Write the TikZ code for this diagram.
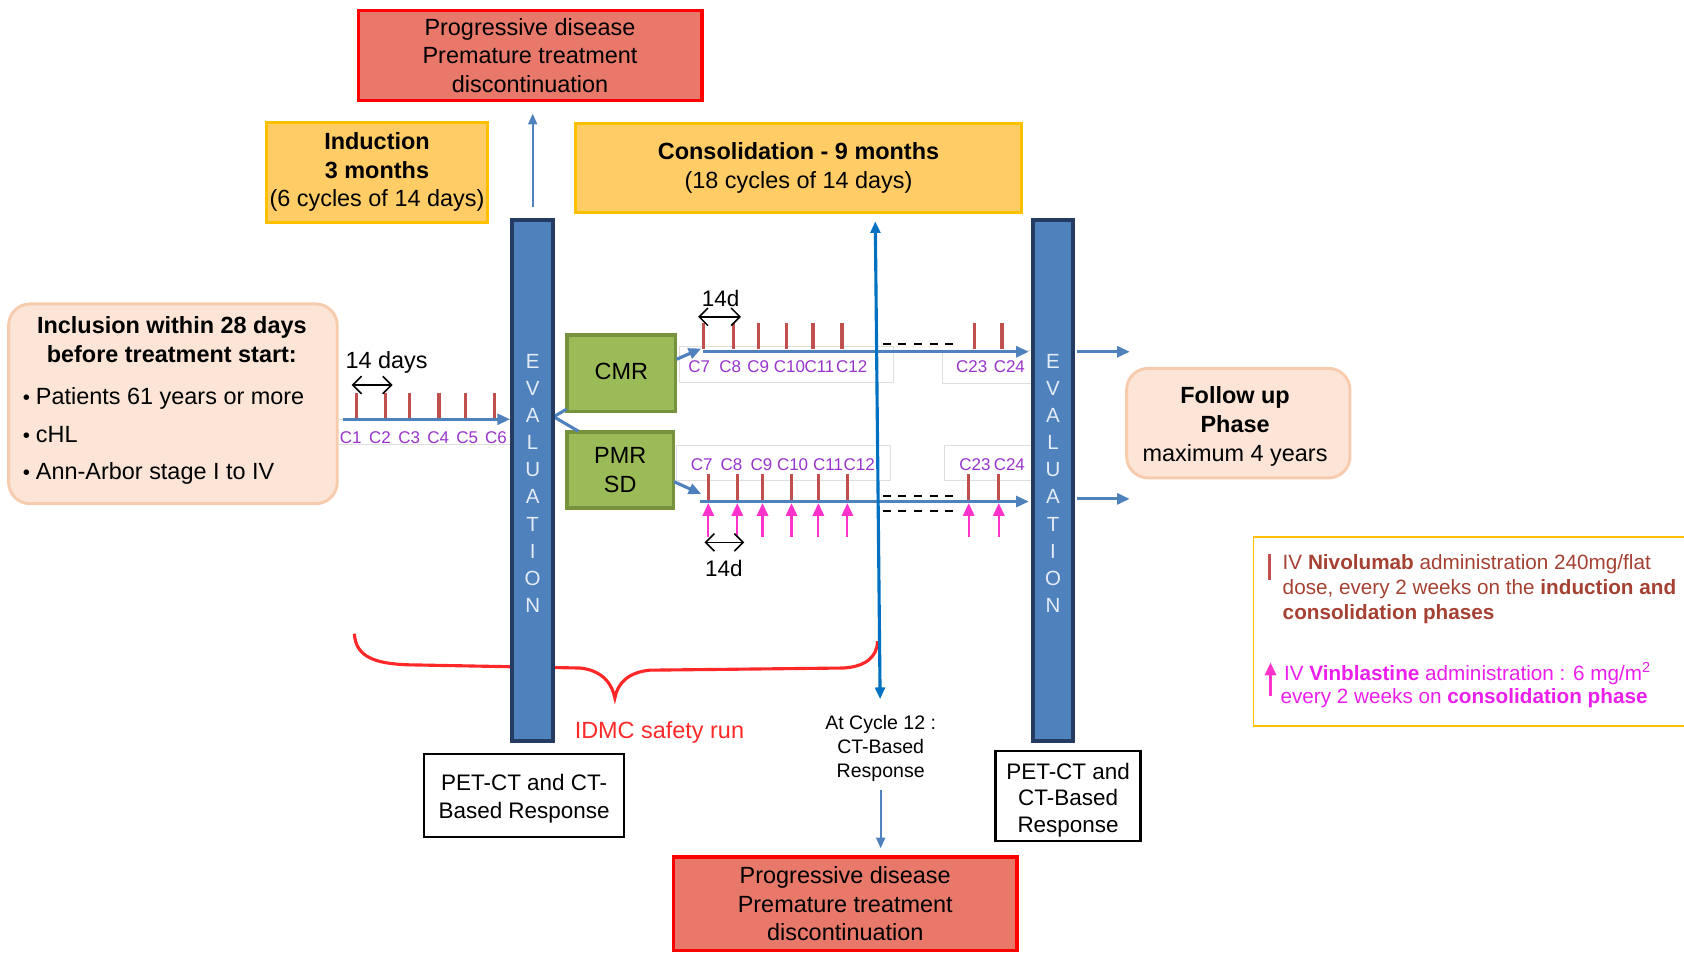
\documentclass[tikz,border=0pt]{standalone}
\usepackage{fontspec}
\setmainfont{Liberation Sans}
\usetikzlibrary{calc,arrows.meta,positioning}

\definecolor{pdfill}{RGB}{232,121,106}
\definecolor{pdline}{RGB}{255,0,0}
\definecolor{phfill}{RGB}{255,204,102}
\definecolor{phline}{RGB}{255,192,0}
\definecolor{evfill}{RGB}{79,129,189}
\definecolor{evline}{RGB}{36,60,100}
\definecolor{evtext}{RGB}{228,236,246}
\definecolor{grfill}{RGB}{155,187,89}
\definecolor{grline}{RGB}{118,146,60}
\definecolor{pcfill}{RGB}{252,228,214}
\definecolor{pcline}{RGB}{248,203,173}
\definecolor{nivored}{RGB}{192,80,77}
\definecolor{cycpurple}{RGB}{153,51,204}
\definecolor{vinpink}{RGB}{255,51,204}
\definecolor{vinmag}{RGB}{235,30,235}
\definecolor{nivobrown}{RGB}{165,65,50}
\definecolor{lineblue}{RGB}{79,129,189}
\definecolor{axisblue}{RGB}{0,112,192}
\definecolor{idmcred}{RGB}{255,40,40}

\begin{document}
\begin{tikzpicture}[x=0.55pt,y=-0.55pt,
		pdbox/.style={draw=pdline,line width=1.7pt,fill=pdfill,align=center,inner sep=0pt,
			minimum width=176pt,minimum height=46pt,font=\fontsize{12}{14.6}\selectfont},
		phbox/.style={draw=phline,line width=1.7pt,fill=phfill,align=center,inner sep=0pt,
			font=\fontsize{12}{14.6}\selectfont},
		evbar/.style={draw=evline,line width=2pt,fill=evfill,minimum height=266.75pt,inner sep=0pt},
		evletters/.style={text=evtext,align=center,inner sep=0pt,font=\fontsize{10.5}{13.9}\selectfont},
		respbox/.style={draw=grline,line width=1.8pt,fill=grfill,align=center,inner sep=0pt,
			minimum height=39pt,font=\fontsize{12}{14.6}\selectfont},
		peach/.style={draw=pcline,line width=1.5pt,fill=pcfill,rounded corners=11pt,inner sep=0pt},
		ctbox/.style={draw,line width=1.2pt,fill=white,inner sep=0pt},
		cttext/.style={align=center,inner sep=0pt,font=\fontsize{11.5}{14.2}\selectfont},
		timeline/.style={lineblue,line width=1.6pt,-{Triangle[length=6.5pt,width=5.5pt]}},
		thinarrow/.style={lineblue,line width=1.1pt,-{Triangle[length=5.5pt,width=4.5pt]}},
		nivo/.style={nivored,line width=1.6pt},
		vinb/.style={vinpink,line width=1.1pt,-{Triangle[length=6.5pt,width=5.8pt]}},
		cyc/.style={text=cycpurple,inner sep=0pt,font=\fontsize{8.7}{9}\selectfont},
		span/.style={{Straight Barb[length=4.5pt,width=9pt]}-{Straight Barb[length=4.5pt,width=9pt]},line width=0.8pt},
		lblbox/.style={draw=black!13,line width=0.5pt},
		gap/.style={line width=0.9pt,dash pattern=on 4pt off 4pt},
		note/.style={inner sep=0pt,font=\fontsize{11.5}{13}\selectfont}]
	\useasboundingbox (0,0) rectangle (1568,887);

	\coordinate (indS) at (319.5,390.4);
	\coordinate (indE) at (475,390.4);
	\coordinate (cmrS) at (655,327.5);
	\coordinate (cmrE) at (958,327.5);
	\coordinate (pmrS) at (652,467);
	\coordinate (pmrE) at (958,467);
	\coordinate (cmrA) at (630,334.5);
	\coordinate (cmrB) at (653,324.5);
	\coordinate (pmrA) at (627.6,448.5);
	\coordinate (pmrB) at (653,460);
	\coordinate (fork) at (515.5,388);
	\coordinate (cmrFork) at (527.6,381);
	\coordinate (pmrFork) at (538.5,401.5);
	\coordinate (ctTop) at (815,206);
	\coordinate (ctBot) at (819.5,651);
	\coordinate (fupA) at (1003,327.5);
	\coordinate (fupB) at (1052,327.5);
	\coordinate (fupC) at (1003,464.5);
	\coordinate (fupD) at (1052,464.5);

	% safety run brace
	\draw[idmcred,line width=1.6pt] (330,590) .. controls (331,612) and (350,618) .. (380,619)
		-- (540,622) .. controls (560,624) and (570,636) .. (572.5,650)
		.. controls (575,636) and (585,626) .. (605,624) -- (785,622)
		.. controls (805,621) and (817,612) .. (817,597);

	% label frames
	\draw[lblbox] (314,390.4) rectangle (476,413.7);
	\draw[lblbox] (633,323) rectangle (832,356);
	\draw[lblbox] (878,326) rectangle (960,357.5);
	\draw[lblbox] (630,415) rectangle (829,447);
	\draw[lblbox] (879,415) rectangle (960,447);

	\node[pdbox] (pdTop) at (493.5,51.5) {Progressive disease\\Premature treatment\\discontinuation};
	\node[pdbox,minimum height=48pt] (pdBot) at (787,841.5) {Progressive disease\\Premature treatment\\discontinuation};
	\node[phbox,minimum width=113.3pt,minimum height=51.2pt] (induction) at (351,160.5)
		{\textbf{Induction}\\\textbf{3 months}\\(6 cycles of 14 days)};
	\node[phbox,minimum width=228.3pt,minimum height=45.7pt] (consol) at (743.5,156.5)
		{\textbf{Consolidation - 9 months}\\(18 cycles of 14 days)};

	\node[peach,minimum width=168.3pt,minimum height=102.3pt] (incl) at (161,376) {};
	\node[inner sep=0pt,align=center,font=\fontsize{12}{14.9}\selectfont\bfseries] (inclTitle) at (160,316.5)
		{Inclusion within 28 days\\before treatment start:};
	\node[inner sep=0pt,align=left,anchor=west,font=\fontsize{12}{19.2}\selectfont] (inclList) at (21,406)
		{{\fontsize{10.5}{10}\selectfont\textbullet}\hspace{3pt}Patients 61 years or more\\
		{\fontsize{10.5}{10}\selectfont\textbullet}\hspace{3pt}cHL\\
		{\fontsize{10.5}{10}\selectfont\textbullet}\hspace{3pt}Ann-Arbor stage I to IV};

	\node[peach,minimum width=114.4pt,minimum height=56.1pt] (followup) at (1153,394) {};
	\node[inner sep=0pt,align=center,font=\fontsize{12}{14.9}\selectfont] (followTxt) at (1150,397)
		{\textbf{Follow up}\\\textbf{Phase}\\maximum 4 years};

	\node[respbox,minimum width=55.5pt] (cmr) at (578.5,347.5) {\raisebox{2pt}{CMR}};
	\node[respbox,minimum width=54.5pt] (pmr) at (577.5,437.5) {PMR\\SD};

	% induction timeline
	\draw[timeline] (indS) -- (indE);
	\foreach \x in {332,358.8,381,408.7,433.6,460.3}
		\draw[nivo] (\x,365.6) -- (\x,389.5);
	\foreach \x/\c in {326.5/1,353.8/2,381/3,408/4,435/5,461.8/6}
		\node[cyc] (ind\c) at (\x,407.5) {C\c};
	\draw[span] (327.4,358.5) -- (365.6,358.5);
	\node[note,font=\fontsize{12}{13}\selectfont] (indStep) at (360,337.7) {14 days};

	% consolidation, CMR arm
	\draw[lineblue,line width=1.6pt] (fork) -- (cmrFork);
	\draw[lineblue,line width=1.6pt] (fork) -- (pmrFork);
	\draw[timeline] (cmrA) -- (cmrB);
	\draw[timeline] (cmrS) -- (cmrE);
	\foreach \x in {655,683,706,732,757,784,907,933}
		\draw[nivo] (\x,301) -- (\x,325);
	\foreach \x/\c in {651/7,680/8,706/9,735/10,763/11,793/12,904.7/23,939.8/24}
		\node[cyc] (cmr\c) at (\x,341.4) {C\c};
	\draw[gap] (822,320.3) -- (889,320.3);
	\draw[span] (650,295) -- (690,295);
	\node[note] (cmrStep) at (671,277.5) {14d};

	% consolidation, PMR/SD arm
	\draw[timeline] (pmrA) -- (pmrB);
	\draw[timeline] (pmrS) -- (pmrE);
	\foreach \x in {659.5,686.5,710,737,762,789,902,930}{
		\draw[nivo] (\x,441.5) -- (\x,465.5);
		\draw[vinb] (\x,500) -- (\x,468.5);
	}
	\foreach \x/\c in {653.3/7,681/8,709/9,738/10,771/11,800/12,907.8/23,939.8/24}
		\node[cyc] (pmr\c) at (\x,433) {C\c};
	\draw[gap] (822,461.8) -- (889,461.8);
	\draw[gap] (822,476) -- (889,476);
	\draw[span] (656,505) -- (693,505);
	\node[note] (pmrStep) at (674,529.5) {14d};

	% evaluation bars
	\node[evbar,minimum width=20.9pt] (evalL) at (496,447.5) {};
	\node[evbar,minimum width=20.4pt] (evalR) at (980.5,447.5) {};
	\node[evletters] (evalLtxt) at (496,450) {E\\V\\A\\L\\U\\A\\T\\I\\O\\N};
	\node[evletters] (evalRtxt) at (980.5,450) {E\\V\\A\\L\\U\\A\\T\\I\\O\\N};

	\draw[thinarrow,shorten <=5.5pt,shorten >=6pt] (evalL.north) -- (evalL.north |- pdTop.south);
	\draw[timeline] (fupA) -- (fupB);
	\draw[timeline] (fupC) -- (fupD);

	% cycle 12 check
	\draw[axisblue,line width=1.6pt,{Triangle[length=6pt,width=5pt]}-{Triangle[length=6pt,width=5pt]}] (ctTop) -- (ctBot);
	\node[inner sep=0pt,align=center,font=\fontsize{10}{12.3}\selectfont] (cycle12) at (820,697)
		{At Cycle 12 :\\CT-Based\\Response};
	\draw[thinarrow,shorten <=4pt,shorten >=3.5pt] (cycle12.south) -- (cycle12.south |- pdBot.north);

	\node[text=idmcred,inner sep=0pt,font=\fontsize{12}{14}\selectfont] (idmc) at (614,682) {IDMC safety run};
	\node[ctbox,minimum width=102.3pt,minimum height=42.4pt] (petL) at (488,740.5) {};
	\node[cttext] (petLtxt) at (488,744) {PET-CT and CT-\\Based Response};
	\node[ctbox,minimum width=74.3pt,minimum height=46.2pt] (petR) at (994.5,741) {};
	\node[cttext,font=\fontsize{11.5}{13.5}\selectfont] (petRtxt) at (994.5,745) {PET-CT and\\CT-Based\\Response};

	% legend
	\node[draw=phline,line width=1pt,minimum width=227pt,minimum height=96.8pt,inner sep=0pt] (legend) at (1373.5,588) {};
	\draw[nivo] (1182,516) -- (1182,540);
	\node[anchor=west,align=left,inner sep=0pt,text=nivobrown,font=\fontsize{10.6}{12.9}\selectfont] (legNivo) at (1194,548.5)
		{IV \textbf{Nivolumab} administration 240mg/flat\\dose, every 2 weeks on the \textbf{induction and}\\\textbf{consolidation phases}};
	\draw[vinb] (1183,648) -- (1183,617);
	\node[anchor=west,align=left,inner sep=0pt,text=vinmag,font=\fontsize{10.6}{11.6}\selectfont] (legVinb) at (1192,638)
		{\,IV \textbf{Vinblastine} administration : 6 mg/m\textsuperscript{2}\\every 2 weeks on \textbf{consolidation phase}};
\end{tikzpicture}
\end{document}
